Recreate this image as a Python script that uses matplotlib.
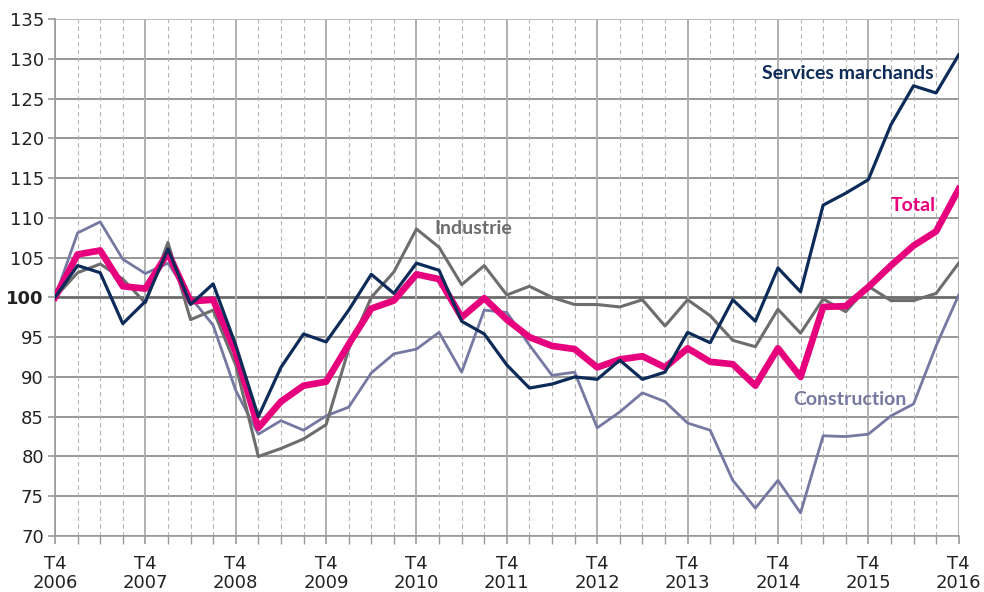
import matplotlib
matplotlib.use("Agg")
import matplotlib.pyplot as plt
from matplotlib.ticker import FixedLocator

years = list(range(2006, 2017))
quarters = list(range(41))

services = [100, 104.0, 103.1, 96.7, 99.5, 106.1, 99.1, 101.7, 94.0, 85.0,
            91.2, 95.4, 94.4, 98.4, 102.9, 100.5, 104.3, 103.4, 97.0, 95.4,
            91.5, 88.6, 89.1, 90.0, 89.7, 92.1, 89.7, 90.6, 95.6, 94.3,
            99.7, 97.0, 103.7, 100.7, 111.6, 113.1, 114.8, 121.7, 126.6, 125.7,
            130.5]
total = [100, 105.4, 105.9, 101.4, 101.1, 105.6, 99.5, 99.7, 93.1, 83.6,
         86.9, 88.9, 89.4, 94.1, 98.6, 99.6, 102.9, 102.3, 97.5, 99.9,
         97.2, 95.0, 93.9, 93.5, 91.2, 92.2, 92.6, 91.2, 93.6, 91.9,
         91.6, 88.9, 93.6, 90.0, 98.8, 98.9, 101.3, 104.0, 106.5, 108.3,
         113.6]
industrie = [100, 103.1, 104.2, 102.3, 99.3, 106.9, 97.2, 98.4, 91.5, 80.0,
             81.0, 82.2, 84.0, 93.5, 100.0, 103.2, 108.6, 106.3, 101.6, 104.0,
             100.3, 101.4, 100.0, 99.1, 99.1, 98.8, 99.7, 96.4, 99.7, 97.7,
             94.6, 93.8, 98.5, 95.5, 99.8, 98.2, 101.4, 99.6, 99.6, 100.5,
             104.3]
construction = [100, 108.1, 109.5, 104.8, 103.0, 104.3, 100.0, 96.5, 88.3, 82.8,
                84.5, 83.3, 85.1, 86.2, 90.5, 92.9, 93.5, 95.6, 90.6, 98.4,
                98.1, 94.0, 90.2, 90.6, 83.6, 85.6, 88.0, 86.9, 84.2, 83.3,
                77.0, 73.5, 77.0, 72.9, 82.6, 82.5, 82.8, 85.1, 86.6, 93.9,
                100.3]
yticks = list(range(70, 136, 5))

C_SERV = "#0d2b58"
C_TOT = "#e6007e"
C_IND = "#6d6d6d"
C_CON = "#7579a1"

fig = plt.figure(figsize=(9.84, 5.92), dpi=100)
ax = fig.add_axes([55/984, 56/592, (958.7-55)/984, (536-19)/592])
ax.set_xlim(0, 40)
ax.set_ylim(70, 135)

# grid
for y in yticks:
    if y == 100:
        ax.axhline(y, color="#6a6a6a", lw=2.0, zorder=1)
    elif y == 135:
        ax.axhline(y, color="#b5b5b5", lw=1.3, zorder=1)
    else:
        ax.axhline(y, color="#858585", lw=1.2, zorder=1)
for q in quarters:
    if q % 4 == 0:
        ax.axvline(q, color="#b0b0b0", lw=1.4, zorder=1)
    else:
        ax.axvline(q, color="#b5b5b5", lw=0.8, ls=(0, (4, 3)), zorder=1)

for s in ["top", "right"]:
    ax.spines[s].set_visible(False)
ax.spines["left"].set_color("#999999")
ax.spines["left"].set_linewidth(1.2)
ax.spines["bottom"].set_color("#999999")
ax.spines["bottom"].set_linewidth(1.2)

ax.plot(quarters, construction, color=C_CON, lw=2.0, zorder=3)
ax.plot(quarters, industrie, color=C_IND, lw=2.2, zorder=4)
ax.plot(quarters, total, color=C_TOT, lw=4.8, zorder=5)
ax.plot(quarters, services, color=C_SERV, lw=2.3, zorder=6)

ax.set_yticks(yticks)
ax.set_yticklabels([str(v) for v in yticks])
for lbl in ax.get_yticklabels():
    if lbl.get_text() == "100":
        lbl.set_fontweight("bold")
ax.tick_params(axis="y", length=5, color="#999999", width=1.2,
               labelsize=13, labelcolor="#222222", pad=3)

ax.xaxis.set_minor_locator(FixedLocator(quarters))
ax.set_xticks([q for q in quarters if q % 4 == 0])
ax.set_xticklabels([f"T4\n{y}" for y in years])
ax.tick_params(axis="x", which="major", length=6, color="#999999", width=1.2,
               labelsize=13, labelcolor="#222222", pad=8)
ax.tick_params(axis="x", which="minor", length=6, color="#999999", width=1.0)
for lbl in ax.get_xticklabels():
    lbl.set_linespacing(1.05)

lab = dict(fontfamily="Lato", fontweight="bold", fontsize=14,
           ha="center", va="center", zorder=7)
ax.text(18.5, 108.7, "Industrie", color=C_IND, **lab)
ax.text(35.1, 128.2, "Services marchands", color=C_SERV, **lab)
ax.text(38.0, 111.6, "Total", color=C_TOT, **lab)
ax.text(35.2, 87.2, "Construction", color=C_CON, **lab)

fig.savefig("out.png", dpi=100)
